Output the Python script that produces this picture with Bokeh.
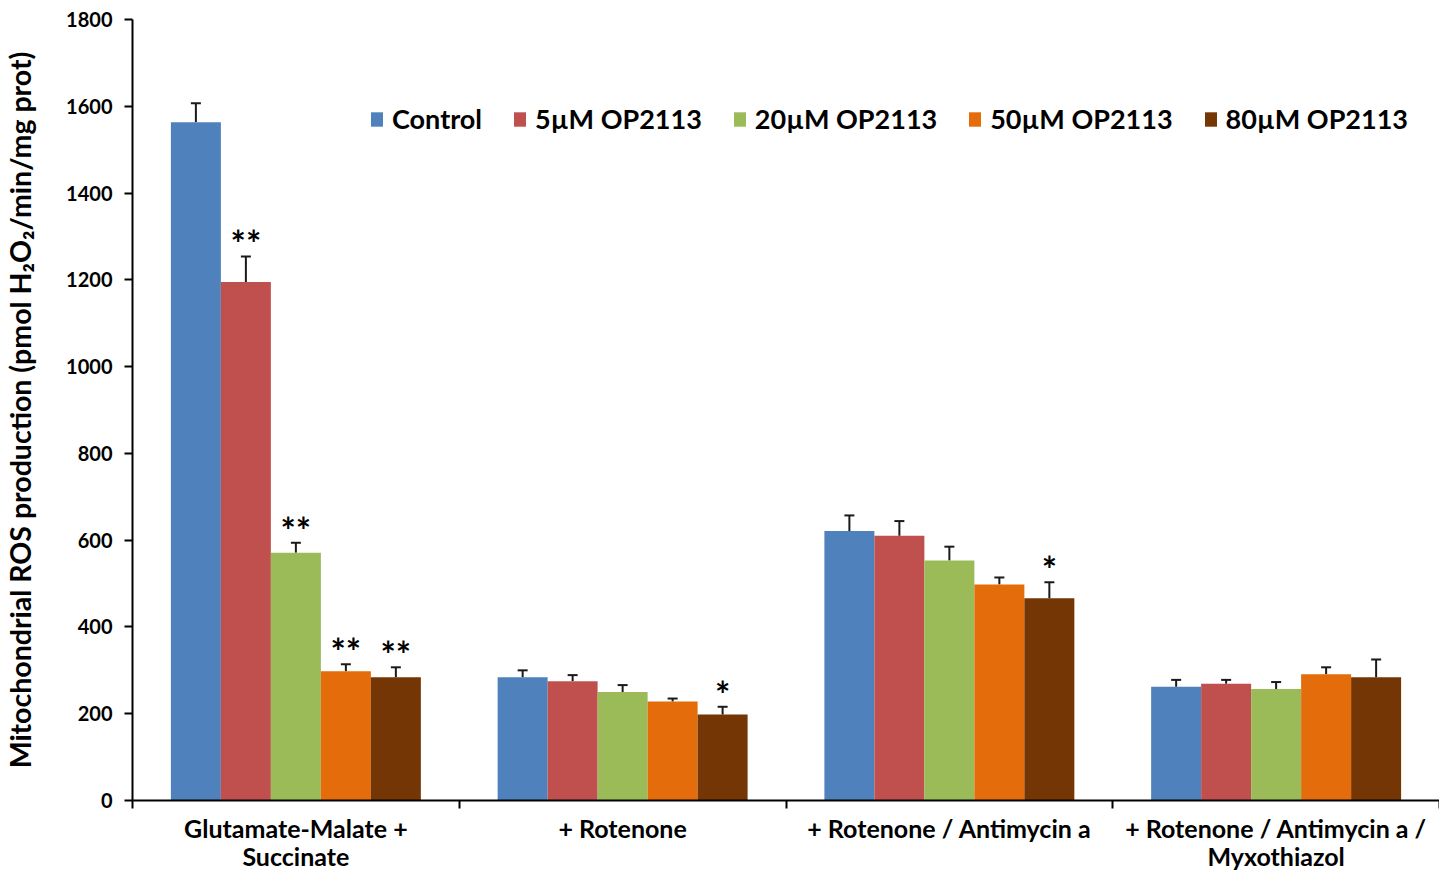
from bokeh.plotting import figure
from bokeh.models import (ColumnDataSource, FixedTicker, Whisker, TeeHead, Legend, LegendItem, Range1d)
from bokeh.core.properties import value
from bokeh.embed import file_html
from bokeh.resources import INLINE

groups = ["Glutamate-Malate +\nSuccinate", "+ Rotenone", "+ Rotenone / Antimycin a",
          "+ Rotenone / Antimycin a /\nMyxothiazol"]
series = ["Control", "5µM OP2113", "20µM OP2113", "50µM OP2113", "80µM OP2113"]
colors = ["#4F81BD", "#C0504D", "#9BBB59", "#E46C0A", "#743605"]

control = [1563, 284, 621, 262]
op5 = [1195, 275, 610, 269]
op20 = [571, 250, 553, 257]
op50 = [298, 228, 498, 291]
op80 = [284, 198, 466, 284]

control_err = [44, 16, 36, 16]
op5_err = [59, 14, 34, 9]
op20_err = [23, 16, 32, 16]
op50_err = [16, 7, 16, 16]
op80_err = [23, 18, 37, 41]

control_sig = ["", "", "", ""]
op5_sig = ["**", "", "", ""]
op20_sig = ["**", "", "", ""]
op50_sig = ["**", "", "", ""]
op80_sig = ["**", "*", "*", ""]

y_ticks = [0, 200, 400, 600, 800, 1000, 1200, 1400, 1600, 1800]

values = [control, op5, op20, op50, op80]
errs = [control_err, op5_err, op20_err, op50_err, op80_err]
sigs = [control_sig, op5_sig, op20_sig, op50_sig, op80_sig]

FONT = "Lato"

p = figure(width=1439, height=874, output_backend="svg", toolbar_location=None,
           x_range=Range1d(0, 4), y_range=Range1d(0, 1800),
           min_border_left=125, min_border_right=0, min_border_top=19, min_border_bottom=0)
p.outline_line_color = None
p.xgrid.visible = False
p.ygrid.visible = False

bar_w = 0.153
offsets = [-2 * bar_w, -bar_w, 0, bar_w, 2 * bar_w]
items = []
for k in range(len(series)):
    xs = [i + 0.5 + offsets[k] for i in range(len(groups))]
    tops = [v + e for v, e in zip(values[k], errs[k])]
    src = ColumnDataSource(dict(x=xs, top=values[k], upper=tops, sig=sigs[k]))
    r = p.vbar(x="x", top="top", width=bar_w, source=src, fill_color=colors[k], line_color=None)
    items.append(LegendItem(label=series[k], renderers=[r]))
    w = Whisker(base="x", lower="top", upper="upper", source=src, dimension="height",
                line_color="#1a1a1a", line_width=2,
                upper_head=TeeHead(size=10, line_color="#1a1a1a", line_width=2), lower_head=None)
    p.add_layout(w)
    p.text(x="x", y="upper", text="sig", source=src, text_align="center", text_baseline="alphabetic",
           y_offset=-13, text_font=value(FONT), text_font_style="bold", text_font_size="36px",
           text_color="black")

legend = Legend(items=items, orientation="horizontal", location=(237, 665),
                label_text_font=FONT, label_text_font_style="bold", label_text_font_size="27px",
                label_text_color="black", glyph_width=15, glyph_height=18, label_standoff=8,
                spacing=30, padding=0, margin=0, background_fill_alpha=0, border_line_color=None)
p.add_layout(legend)

# x axis: labels at group centres, ticks at group boundaries
p.xaxis.ticker = FixedTicker(ticks=[0.5, 1.5, 2.5, 3.5], minor_ticks=[0, 1, 2, 3, 4])
p.xaxis.major_label_overrides = {i + 0.5: g for i, g in enumerate(groups)}
p.xaxis.major_tick_out = 0
p.xaxis.major_tick_in = 0
p.xaxis.minor_tick_out = 8
p.xaxis.minor_tick_in = 0
p.xaxis.minor_tick_line_width = 2
p.xaxis.minor_tick_line_color = "black"
p.xaxis.axis_line_width = 2
p.xaxis.axis_line_color = "black"
p.xaxis.major_label_text_font = FONT
p.xaxis.major_label_text_font_style = "bold"
p.xaxis.major_label_text_font_size = "25px"
p.xaxis.major_label_text_line_height = 0.95
p.xaxis.major_label_text_color = "black"
p.xaxis.major_label_standoff = 4

# y axis
p.yaxis.ticker = FixedTicker(ticks=y_ticks)
p.yaxis.minor_tick_line_color = None
p.yaxis.major_tick_out = 8
p.yaxis.major_tick_in = 0
p.yaxis.major_tick_line_width = 2
p.yaxis.major_tick_line_color = "black"
p.yaxis.axis_line_width = 2
p.yaxis.axis_line_color = "black"
p.yaxis.major_label_text_font = FONT
p.yaxis.major_label_text_font_style = "bold"
p.yaxis.major_label_text_font_size = "20px"
p.yaxis.major_label_text_color = "black"
p.yaxis.major_label_standoff = 12
p.yaxis.axis_label = "Mitochondrial ROS production (pmol H₂O₂/min/mg prot)"
p.yaxis.axis_label_text_font = FONT
p.yaxis.axis_label_text_font_style = "bold"
p.yaxis.axis_label_text_font_size = "28.5px"
p.yaxis.axis_label_text_color = "black"
p.yaxis.axis_label_standoff = 26

open("out.html", "w").write(file_html(p, INLINE))
